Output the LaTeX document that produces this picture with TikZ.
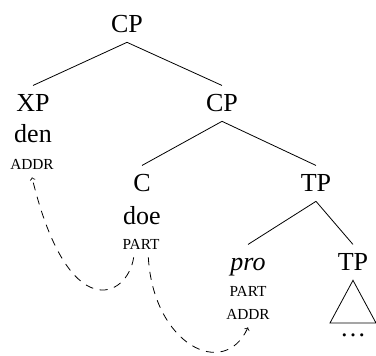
\documentclass[tikz,border=0pt]{standalone}
\usepackage{fontspec}
\setmainfont{Liberation Serif}
\usetikzlibrary{calc}
\begin{document}
\begin{tikzpicture}[x=0.75pt,y=-0.75pt,
 tn/.style={anchor=base,inner sep=0pt,outer sep=7pt,text height=12.9pt,text depth=0pt,font=\fontsize{19.5}{22}\selectfont},
 wd/.style={anchor=base,inner sep=0pt,font=\fontsize{19.5}{22}\selectfont},
 sc/.style={anchor=base,inner sep=0pt,outer sep=5.5pt,font=\fontsize{11.5}{13}\selectfont},
 br/.style={line width=0.6pt},
 arr/.style={->,dash pattern=on 6pt off 5pt,line width=0.6pt}]
\useasboundingbox (0,0) rectangle (376,356);
\node[tn] (cp1) at (127,33) {CP};
\node[tn] (xp) at (33,112) {XP};
\node[wd] (den) at (33,143) {den};
\node[sc] (addr1) at (32,170) {ADDR};
\node[tn] (cp2) at (222,112) {CP};
\node[tn] (c) at (142,192) {C};
\node[wd] (doe) at (142,225) {doe};
\node[sc] (part1) at (141,250) {PART};
\node[tn] (tp1) at (316,192) {TP};
\node[tn] (pro) at (248,271) {\itshape pro};
\node[sc] (part2) at (248,297) {PART};
\node[sc] (addr2) at (248,320) {ADDR};
\node[tn] (tp2) at (353,271) {TP};
\node[wd] (dots) at (353,337) {\dots};
\draw[br] (cp1.south) -- (xp.north);
\draw[br] (cp1.south) -- (cp2.north);
\draw[br] (cp2.south) -- (c.north);
\draw[br] (cp2.south) -- (tp1.north);
\draw[br] (tp1.south) -- (pro.north);
\draw[br] (tp1.south) -- (tp2.north);
\coordinate (bl) at (330,323);
\coordinate (brr) at (376,323);
\draw[br] (tp2.south) -- (bl) -- (brr) -- cycle;
\coordinate (s1) at ([xshift=-5.5pt]part1.south);
\coordinate (s2) at ([xshift=5.5pt]part1.south);
\draw[arr] (s1) .. controls ($(s1)+(-6,41)$) and ($(addr1.south)+(36,149)$) .. (addr1.south);
\draw[arr] (s2) .. controls ($(s2)+(5,87)$) and ($(addr2.south)+(-24,53)$) .. (addr2.south);
\end{tikzpicture}
\end{document}
